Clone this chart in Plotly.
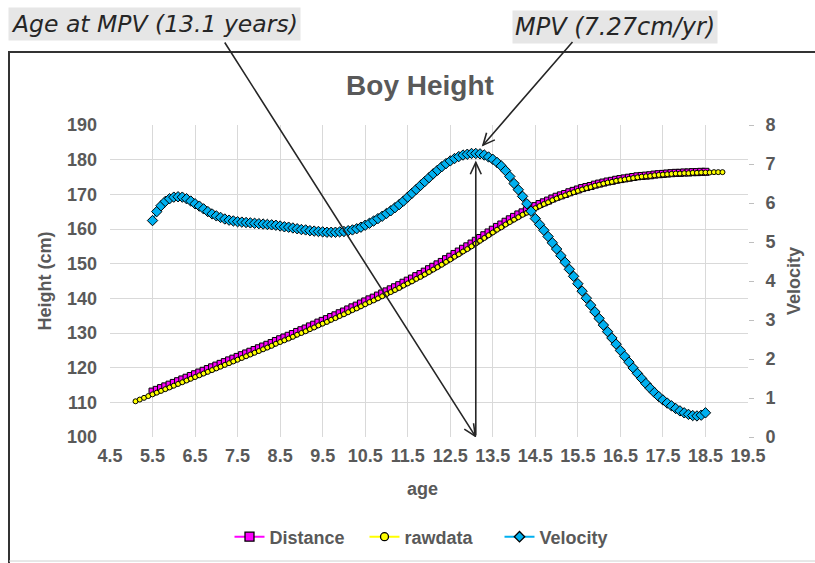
import math
import plotly.graph_objects as go

# ---------------- data ----------------
ages_fit = [5.5, 5.6, 5.7, 5.8, 5.9,
            6.0, 6.1, 6.2, 6.3, 6.4, 6.5, 6.6, 6.7, 6.8, 6.9,
            7.0, 7.1, 7.2, 7.3, 7.4, 7.5, 7.6, 7.7, 7.8, 7.9,
            8.0, 8.1, 8.2, 8.3, 8.4, 8.5, 8.6, 8.7, 8.8, 8.9,
            9.0, 9.1, 9.2, 9.3, 9.4, 9.5, 9.6, 9.7, 9.8, 9.9,
            10.0, 10.1, 10.2, 10.3, 10.4, 10.5, 10.6, 10.7, 10.8, 10.9,
            11.0, 11.1, 11.2, 11.3, 11.4, 11.5, 11.6, 11.7, 11.8, 11.9,
            12.0, 12.1, 12.2, 12.3, 12.4, 12.5, 12.6, 12.7, 12.8, 12.9,
            13.0, 13.1, 13.2, 13.3, 13.4, 13.5, 13.6, 13.7, 13.8, 13.9,
            14.0, 14.1, 14.2, 14.3, 14.4, 14.5, 14.6, 14.7, 14.8, 14.9,
            15.0, 15.1, 15.2, 15.3, 15.4, 15.5, 15.6, 15.7, 15.8, 15.9,
            16.0, 16.1, 16.2, 16.3, 16.4, 16.5, 16.6, 16.7, 16.8, 16.9,
            17.0, 17.1, 17.2, 17.3, 17.4, 17.5, 17.6, 17.7, 17.8, 17.9,
            18.0, 18.1, 18.2, 18.3, 18.4, 18.5]

ages_raw = [5.1, 5.2, 5.3, 5.4, 5.5, 5.6, 5.7, 5.8, 5.9,
            6.0, 6.1, 6.2, 6.3, 6.4, 6.5, 6.6, 6.7, 6.8, 6.9,
            7.0, 7.1, 7.2, 7.3, 7.4, 7.5, 7.6, 7.7, 7.8, 7.9,
            8.0, 8.1, 8.2, 8.3, 8.4, 8.5, 8.6, 8.7, 8.8, 8.9,
            9.0, 9.1, 9.2, 9.3, 9.4, 9.5, 9.6, 9.7, 9.8, 9.9,
            10.0, 10.1, 10.2, 10.3, 10.4, 10.5, 10.6, 10.7, 10.8, 10.9,
            11.0, 11.1, 11.2, 11.3, 11.4, 11.5, 11.6, 11.7, 11.8, 11.9,
            12.0, 12.1, 12.2, 12.3, 12.4, 12.5, 12.6, 12.7, 12.8, 12.9,
            13.0, 13.1, 13.2, 13.3, 13.4, 13.5, 13.6, 13.7, 13.8, 13.9,
            14.0, 14.1, 14.2, 14.3, 14.4, 14.5, 14.6, 14.7, 14.8, 14.9,
            15.0, 15.1, 15.2, 15.3, 15.4, 15.5, 15.6, 15.7, 15.8, 15.9,
            16.0, 16.1, 16.2, 16.3, 16.4, 16.5, 16.6, 16.7, 16.8, 16.9,
            17.0, 17.1, 17.2, 17.3, 17.4, 17.5, 17.6, 17.7, 17.8, 17.9,
            18.0, 18.1, 18.2, 18.3, 18.4, 18.5, 18.6, 18.7, 18.8, 18.9]

distance = [113.1, 113.6, 114.1, 114.6, 115.1,
            115.6, 116.1, 116.6, 117.1, 117.6, 118.1, 118.6, 119.1, 119.6, 120.1,
            120.6, 121.1, 121.6, 122.1, 122.6, 123.1, 123.6, 124.1, 124.6, 125.1,
            125.6, 126.1, 126.6, 127.1, 127.7, 128.2, 128.7, 129.2, 129.7, 130.3,
            130.8, 131.3, 131.9, 132.4, 133.0, 133.5, 134.0, 134.6, 135.1, 135.7,
            136.2, 136.8, 137.4, 137.9, 138.5, 139.1, 139.7, 140.2, 140.8, 141.4,
            142.0, 142.6, 143.2, 143.8, 144.5, 145.1, 145.7, 146.4, 147.0, 147.7,
            148.4, 149.1, 149.8, 150.5, 151.3, 152.0, 152.8, 153.5, 154.3, 155.0,
            155.8, 156.6, 157.4, 158.2, 159.0, 159.8, 160.6, 161.3, 162.1, 162.8,
            163.5, 164.2, 164.8, 165.4, 166.0, 166.6, 167.2, 167.7, 168.2, 168.8,
            169.3, 169.7, 170.1, 170.6, 171.0, 171.4, 171.8, 172.1, 172.4, 172.8,
            173.1, 173.4, 173.7, 173.9, 174.2, 174.4, 174.6, 174.8, 175.0, 175.2,
            175.3, 175.4, 175.5, 175.7, 175.8, 175.9, 176.0, 176.1, 176.2, 176.2,
            176.3, 176.3, 176.4, 176.4, 176.5, 176.5]

rawdata = [110.3, 110.8, 111.3, 111.8, 112.3, 112.8, 113.3, 113.8, 114.3,
           114.8, 115.3, 115.8, 116.3, 116.8, 117.3, 117.8, 118.3, 118.8, 119.3,
           119.8, 120.3, 120.8, 121.3, 121.8, 122.3, 122.8, 123.3, 123.8, 124.3,
           124.8, 125.3, 125.8, 126.3, 126.9, 127.4, 127.9, 128.4, 128.9, 129.5,
           130.0, 130.5, 131.1, 131.6, 132.2, 132.7, 133.2, 133.8, 134.3, 134.9,
           135.4, 136.0, 136.6, 137.1, 137.7, 138.3, 138.9, 139.4, 140.0, 140.6,
           141.2, 141.8, 142.4, 143.0, 143.7, 144.3, 144.9, 145.6, 146.2, 146.9,
           147.6, 148.3, 149.0, 149.7, 150.5, 151.2, 152.0, 152.7, 153.5, 154.2,
           155.0, 155.8, 156.6, 157.4, 158.2, 159.0, 159.8, 160.5, 161.3, 162.0,
           162.7, 163.4, 164.1, 164.7, 165.4, 166.0, 166.6, 167.2, 167.7, 168.3,
           168.8, 169.3, 169.7, 170.2, 170.6, 171.0, 171.4, 171.8, 172.1, 172.5,
           172.8, 173.1, 173.4, 173.6, 173.9, 174.1, 174.3, 174.5, 174.7, 174.9,
           175.1, 175.2, 175.3, 175.5, 175.6, 175.7, 175.8, 175.9, 176.0, 176.0,
           176.1, 176.1, 176.2, 176.2, 176.3, 176.3, 176.3, 176.4, 176.4, 176.4]

velocity = [5.55, 5.78, 5.93, 6.04, 6.11,
            6.15, 6.16, 6.15, 6.11, 6.05, 5.98, 5.92, 5.85, 5.78, 5.72,
            5.67, 5.63, 5.59, 5.56, 5.54, 5.52, 5.51, 5.50, 5.49, 5.48,
            5.47, 5.46, 5.45, 5.44, 5.43, 5.41, 5.39, 5.38, 5.36, 5.34,
            5.32, 5.31, 5.29, 5.28, 5.27, 5.26, 5.25, 5.25, 5.25, 5.26,
            5.27, 5.29, 5.31, 5.34, 5.38, 5.43, 5.48, 5.54, 5.60, 5.66,
            5.73, 5.80, 5.88, 5.96, 6.05, 6.15, 6.25, 6.35, 6.45, 6.55,
            6.65, 6.75, 6.84, 6.93, 7.01, 7.08, 7.14, 7.19, 7.23, 7.25,
            7.27, 7.27, 7.26, 7.23, 7.18, 7.12, 7.04, 6.95, 6.83, 6.68,
            6.50, 6.34, 6.17, 5.98, 5.79, 5.60, 5.45, 5.30, 5.14, 4.98,
            4.82, 4.65, 4.48, 4.30, 4.12, 3.93, 3.74, 3.56, 3.38, 3.21,
            3.04, 2.87, 2.70, 2.54, 2.38, 2.22, 2.07, 1.92, 1.77, 1.63,
            1.50, 1.37, 1.25, 1.14, 1.04, 0.95, 0.87, 0.80, 0.73, 0.67,
            0.62, 0.58, 0.55, 0.54, 0.56, 0.62]

age_at_mpv = 13.1
mpv = 7.27
title_text = "Boy Height"
label_age = "Age at MPV (13.1 years)"
label_mpv = "MPV (7.27cm/yr)"

# ---------------- layout geometry ----------------
W, H = 815, 563
L, R, T, B = 110, 748, 125, 437


def px(x):
    return (x - L) / (R - L)


def py(y):
    return (B - y) / (B - T)


GRAY = "#595959"
FONT = "Liberation Sans, Arial, sans-serif"
ARROW = "#262626"

series_style = {
    "Distance": dict(color="#ff00ff", symbol="square", size=7, legend_size=9),
    "rawdata": dict(color="#ffff00", symbol="circle", size=5, legend_size=8),
    "Velocity": dict(color="#00b0f0", symbol="diamond", size=8, legend_size=8),
}

fig = go.Figure()


def add_series(name, xs, ys, yaxis="y"):
    st = series_style[name]
    fig.add_trace(go.Scatter(
        x=xs, y=ys, name=name, mode="lines+markers", yaxis=yaxis, showlegend=False,
        line=dict(color=st["color"], width=2),
        marker=dict(symbol=st["symbol"], size=st["size"], color=st["color"],
                    line=dict(color="black", width=1))))


add_series("Distance", ages_fit, distance)
add_series("rawdata", ages_raw, rawdata)
add_series("Velocity", ages_fit, velocity, "y2")

# legend entries (no data, only the key)
for name in ["Distance", "rawdata", "Velocity"]:
    st = series_style[name]
    fig.add_trace(go.Scatter(
        x=[None], y=[None], name=name, mode="lines+markers",
        line=dict(color=st["color"], width=2),
        marker=dict(symbol=st["symbol"], size=st["legend_size"], color=st["color"],
                    line=dict(color="black", width=1.3))))

tickfont = dict(family=FONT, size=18, color=GRAY, weight="bold")
titlefont = dict(family=FONT, size=18, color=GRAY, weight="bold")

fig.update_layout(
    width=W, height=H,
    margin=dict(l=L, r=W - R, t=T, b=H - B, autoexpand=False),
    paper_bgcolor="white", plot_bgcolor="white",
    showlegend=True,
    title=dict(text=title_text, x=px(420), xanchor="center", xref="paper",
               y=1 - 85 / H, yanchor="middle", yref="container",
               font=dict(family=FONT, size=28, color=GRAY, weight="bold")),
    xaxis=dict(range=[4.5, 19.5], tick0=4.5, dtick=1, showgrid=True,
               gridcolor="#d9d9d9", gridwidth=1, zeroline=False, showline=False,
               ticks="", tickfont=tickfont, ticklabelstandoff=6),
    yaxis=dict(range=[100, 190], tick0=100, dtick=10, showgrid=True,
               gridcolor="#d9d9d9", gridwidth=1, zeroline=False, showline=False,
               ticks="", tickfont=tickfont, ticklabelstandoff=12,
               title=dict(text="Height (cm)", font=titlefont, standoff=10)),
    yaxis2=dict(range=[0, 8], tick0=0, dtick=1, overlaying="y", side="right",
                showgrid=False, zeroline=False, showline=False,
                ticks="outside", ticklen=5, tickcolor="#bfbfbf",
                tickfont=tickfont, ticklabelstandoff=8,
                title=dict(text="Velocity", font=titlefont, standoff=12)),
    legend=dict(orientation="h", x=px(432), xanchor="center",
                y=py(537), yanchor="middle",
                font=dict(family=FONT, size=18, color=GRAY, weight="bold"),
                bgcolor="rgba(0,0,0,0)", entrywidth=90, entrywidthmode="pixels"),
)

# x-axis title
fig.add_annotation(xref="paper", yref="paper", x=px(422), y=py(489),
                   xanchor="center", yanchor="middle", showarrow=False,
                   text="age", font=titlefont)

# chart frame
fig.add_shape(type="line", xref="paper", yref="paper", x0=px(8), x1=px(830),
              y0=py(52), y1=py(52), line=dict(color="#333333", width=2))
fig.add_shape(type="line", xref="paper", yref="paper", x0=px(9), x1=px(9),
              y0=py(52), y1=py(580), line=dict(color="#333333", width=2))
fig.add_shape(type="line", xref="paper", yref="paper", x0=px(9), x1=px(830),
              y0=py(561), y1=py(561), line=dict(color="#d0d0d0", width=1))

# label boxes
fig.add_annotation(xref="paper", yref="paper", x=px(8), y=py(24),
                   xanchor="left", yanchor="middle", showarrow=False,
                   text=label_age, bgcolor="#e6e6e6", borderpad=2,
                   font=dict(family="DejaVu Sans", size=23.5, color=ARROW, style="italic"))
fig.add_annotation(xref="paper", yref="paper", x=px(512), y=py(27),
                   xanchor="left", yanchor="middle", showarrow=False,
                   text=label_mpv, bgcolor="#e6e6e6", borderpad=2,
                   font=dict(family="DejaVu Sans", size=24, color=ARROW, style="italic"))

# arrow shafts
age_tail = (-252, -396)   # pixel offset of tail from head (screen: +y down)
mpv_tail = (98, -113)
mpv_standoff = 11
vert_standoff = 9
fig.add_annotation(x=age_at_mpv, y=100, xref="x", yref="y", text="",
                   showarrow=True, arrowhead=0, arrowwidth=1.6, arrowcolor=ARROW,
                   ax=age_tail[0], ay=age_tail[1], axref="pixel", ayref="pixel", standoff=1)
fig.add_annotation(x=age_at_mpv, y=mpv, xref="x", yref="y2", text="",
                   showarrow=True, arrowhead=0, arrowwidth=1.6, arrowcolor=ARROW,
                   ax=age_at_mpv, ay=0, axref="x", ayref="y2", standoff=vert_standoff)
fig.add_annotation(x=age_at_mpv, y=mpv, xref="x", yref="y2", text="",
                   showarrow=True, arrowhead=0, arrowwidth=1.6, arrowcolor=ARROW,
                   ax=mpv_tail[0], ay=mpv_tail[1], axref="pixel", ayref="pixel",
                   standoff=mpv_standoff)


# open "V" arrowheads drawn in pixel space around the head point
def v_head(xa, ya, yref, tail_dx, tail_dy, standoff, arm=13, half=25):
    dx, dy = tail_dx, -tail_dy
    n = math.hypot(dx, dy)
    ux, uy = dx / n, dy / n
    tx, ty = ux * standoff, uy * standoff
    pts = []
    for s in (1, -1):
        a = math.radians(half * s)
        rx = ux * math.cos(a) - uy * math.sin(a)
        ry = ux * math.sin(a) + uy * math.cos(a)
        pts.append((tx + rx * arm, ty + ry * arm))
    path = "M {:.2f},{:.2f} L {:.2f},{:.2f} L {:.2f},{:.2f}".format(
        pts[0][0], pts[0][1], tx, ty, pts[1][0], pts[1][1])
    fig.add_shape(type="path", xref="x", yref=yref, xsizemode="pixel", ysizemode="pixel",
                  xanchor=xa, yanchor=ya, path=path,
                  line=dict(color=ARROW, width=1.6))


v_head(age_at_mpv, 100, "y", age_tail[0], age_tail[1], 1)
v_head(age_at_mpv, mpv, "y2", 0, 1, vert_standoff)
v_head(age_at_mpv, mpv, "y2", mpv_tail[0], mpv_tail[1], mpv_standoff)

fig.write_html("out.html", config={"displayModeBar": False},
               post_script="document.body.style.margin='0';document.body.style.overflow='hidden';")
